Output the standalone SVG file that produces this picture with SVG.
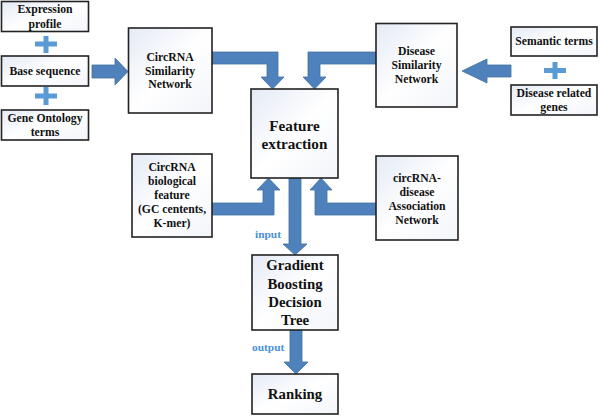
<svg xmlns="http://www.w3.org/2000/svg" width="600" height="417" viewBox="0 0 600 417">
<defs>
<linearGradient id="bg" x1="0" y1="0" x2="1" y2="1">
<stop offset="0" stop-color="#e4eaf5"/>
<stop offset="0.5" stop-color="#ffffff"/>
<stop offset="1" stop-color="#f2f5fa"/>
</linearGradient>
</defs>
<style>
.box{fill:url(#bg);stroke:#222;stroke-width:1.6}
.t{font-weight:bold;fill:#111;text-anchor:middle;dominant-baseline:central}
.s{font-size:11.7px}
.m{font-size:14.8px}
.l{font-size:15.2px}
.arr{fill:#4f81bd;stroke:#41719c;stroke-width:0.8}
.plus{fill:#5b9bd5}
.lab{font-weight:bold;font-size:11.4px;fill:#4a90d9}
</style>
<rect width="600" height="417" fill="#fff"/>
<g font-family="'Liberation Serif', 'Times New Roman', serif">
<g id="connectors">
<polygon class="arr" points="92,65 115,65 115,58 128,71.5 115,85 115,78 92,78"/>
<polygon class="arr" points="212,52 278,52 278,77 284,77 272.5,89 261,77 267,77 267,64 212,64"/>
<polygon class="arr" points="376,52 308,52 308,77 303,77 314.5,89 326,77 320,77 320,64 376,64"/>
<polygon class="arr" points="511,65 487,65 487,59 462,71 487,83 487,77 511,77"/>
<polygon class="arr" points="212,203 263,203 263,190 257,190 268.5,178 280,190 274,190 274,215 212,215"/>
<polygon class="arr" points="376,203 327,203 327,190 332,190 321,178 310,190 315,190 315,215 376,215"/>
<polygon class="arr" points="289,178 301,178 301,244 307,244 295,255 283,244 289,244"/>
<polygon class="arr" points="290,330 302,330 302,362 308,362 296,374 284,362 290,362"/>
<text class="lab" x="255" y="238">input</text>
<text class="lab" x="252" y="351">output</text>
</g>
<g id="plus1"><rect class="plus" x="35" y="41.5" width="22" height="5"/><rect class="plus" x="43.5" y="36" width="5" height="17"/></g>
<g id="plus2"><rect class="plus" x="35" y="93.5" width="22" height="5"/><rect class="plus" x="43.5" y="87" width="5" height="18"/></g>
<g id="plus3"><rect class="plus" x="544" y="68" width="22" height="5"/><rect class="plus" x="552.5" y="62" width="5" height="17"/></g>
<g id="expression">
<rect class="box" x="1.5" y="1.5" width="87" height="30"/>
<text class="t s" x="45" y="9.5">Expression</text>
<text class="t s" x="45" y="24">profile</text>
</g>
<g id="base">
<rect class="box" x="1.5" y="56" width="87" height="30"/>
<text class="t s" x="45" y="71">Base sequence</text>
</g>
<g id="go">
<rect class="box" x="1.5" y="110" width="87" height="30"/>
<text class="t s" x="45" y="118">Gene Ontology</text>
<text class="t s" x="45" y="132.5">terms</text>
</g>
<g id="csn">
<rect class="box" x="128.5" y="28" width="83.5" height="85"/>
<text class="t s" x="170" y="57">CircRNA</text>
<text class="t s" x="170" y="71">Similarity</text>
<text class="t s" x="170" y="84">Network</text>
</g>
<g id="dsn">
<rect class="box" x="376" y="23.5" width="81" height="83.5"/>
<text class="t s" x="416.5" y="51.5">Disease</text>
<text class="t s" x="416.5" y="65">Similarity</text>
<text class="t s" x="416.5" y="79">Network</text>
</g>
<g id="semantic">
<rect class="box" x="511" y="27" width="86" height="29"/>
<text class="t s" x="554" y="41">Semantic terms</text>
</g>
<g id="genes">
<rect class="box" x="511" y="85" width="86" height="30"/>
<text class="t s" x="554" y="93">Disease related</text>
<text class="t s" x="554" y="107">genes</text>
</g>
<g id="feature">
<rect class="box" x="251" y="89" width="87" height="89"/>
<text class="t l" x="294.5" y="125">Feature</text>
<text class="t l" x="294.5" y="143">extraction</text>
</g>
<g id="bio">
<rect class="box" x="132" y="154" width="80" height="83"/>
<text class="t s" x="172" y="167">CircRNA</text>
<text class="t s" x="172" y="181.5">biological</text>
<text class="t s" x="172" y="195.5">feature</text>
<text class="t s" x="172" y="209.5">(GC centents,</text>
<text class="t s" x="172" y="223">K-mer)</text>
</g>
<g id="assoc">
<rect class="box" x="376" y="156" width="82" height="84"/>
<text class="t s" x="417" y="178">circRNA-</text>
<text class="t s" x="417" y="192">disease</text>
<text class="t s" x="417" y="206">Association</text>
<text class="t s" x="417" y="220">Network</text>
</g>
<g id="gbdt">
<rect class="box" x="252" y="255" width="86" height="75"/>
<text class="t m" x="295" y="265">Gradient</text>
<text class="t m" x="295" y="283.5">Boosting</text>
<text class="t m" x="295" y="302">Decision</text>
<text class="t m" x="295" y="320">Tree</text>
</g>
<g id="ranking">
<rect class="box" x="252" y="374" width="86" height="40"/>
<text class="t m" x="295" y="393.5">Ranking</text>
</g>
</g>
</svg>
